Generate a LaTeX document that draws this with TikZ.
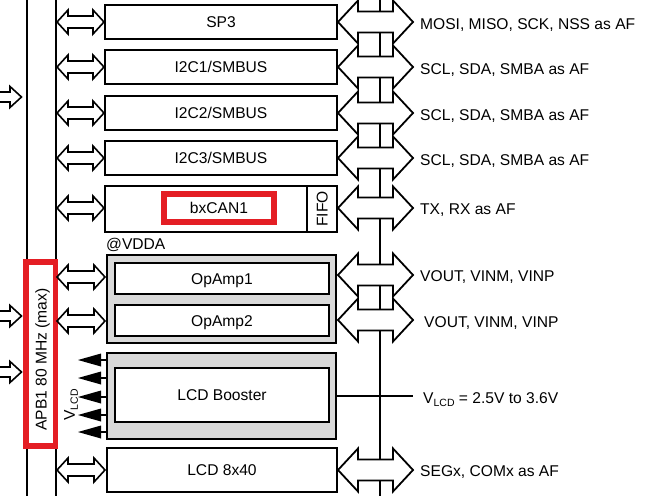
\documentclass[tikz,border=0pt]{standalone}
\usepackage{fontspec}
\setmainfont{Liberation Sans}
\definecolor{annred}{RGB}{228,30,36}
\definecolor{grpgray}{RGB}{217,217,217}
\newcommand\leftdbl[3]{% x1 x2 y
  \draw[line width=1.6pt, fill=white, line join=miter]
    (#1,#3) -- ({#1+11},{#3-12}) -- ({#1+11},{#3-6}) -- ({#2-11},{#3-6}) -- ({#2-11},{#3-12})
    -- (#2,#3) -- ({#2-11},{#3+12}) -- ({#2-11},{#3+6}) -- ({#1+11},{#3+6}) -- ({#1+11},{#3+12}) -- cycle;}
\newcommand\rightdbl[1]{% y
  \draw[line width=1.8pt, fill=white, line join=miter]
    (338,#1) -- (358,{#1-21.5}) -- (358,{#1-10.5}) -- (393,{#1-10.5}) -- (393,{#1-21.5})
    -- (413,#1) -- (393,{#1+21.5}) -- (393,{#1+10.5}) -- (358,{#1+10.5}) -- (358,{#1+21.5}) -- cycle;}
\newcommand\inarrow[1]{% y
  \draw[line width=1.6pt, fill=white, line join=miter]
    (-3,{#1-5}) -- (10,{#1-5}) -- (10,{#1-10.5}) -- (21.5,#1) -- (10,{#1+10.5}) -- (10,{#1+5}) -- (-3,{#1+5});}
\newcommand\vlcdtri[1]{% y
  \fill (78,#1) -- (101,{#1-6.5}) -- (101,{#1+6.5}) -- cycle;
  \draw[line width=1.4pt] (100,#1) -- (107,#1);}
\begin{document}
\begin{tikzpicture}[x=1pt,y=-1pt, font=\fontsize{15.6}{18}\selectfont,
  box/.style={draw=black, line width=2pt, fill=white, inner sep=0pt, text height=11.2pt, text depth=0pt},
  grp/.style={draw=black, line width=2.2pt, fill=grpgray, inner sep=0pt},
  lbl/.style={anchor=west, inner sep=0pt, text height=11.2pt, text depth=0pt},
  redbox/.style={draw=annred, line width=5.5pt, inner sep=0pt}]
\useasboundingbox (0,0) rectangle (660,495);
% bus lines
\coordinate (l1top) at (27,-2);  \coordinate (l1bot) at (27,497);
\coordinate (l2top) at (56,-2);  \coordinate (l2bot) at (56,497);
\coordinate (bustop) at (380,-2); \coordinate (busbot) at (380,497);
\draw[line width=1.8pt] (l1top) -- (l1bot);
\draw[line width=1.8pt] (l2top) -- (l2bot);
\draw[line width=2.8pt] (bustop) -- (busbot);
% APB1 bridge annotation
\node[redbox, fill=white, minimum width=29.5pt, minimum height=184pt] (apb) at (40.75,354) {};
\node[rotate=90, text height=11.2pt, text depth=0pt] (apbtxt) at (41,359.5) {APB1 80 MHz (max)};
% input arrows
\inarrow{97}
\inarrow{316}
\inarrow{372}
% left double arrows
\leftdbl{57}{104}{22}
\leftdbl{57}{104}{67}
\leftdbl{57}{104}{113}
\leftdbl{57}{104}{158}
\leftdbl{57}{104}{208}
\leftdbl{57}{105}{277}
\leftdbl{57}{105}{321}
\leftdbl{57}{105}{470}
% right double arrows
\rightdbl{22}
\rightdbl{67}
\rightdbl{113}
\rightdbl{158}
\rightdbl{208}
\rightdbl{275}
\rightdbl{320}
\rightdbl{470}
% boxes
\node[box, minimum width=232pt, minimum height=34pt] (sp3) at (221,22) {SP3};
\node[box, minimum width=232pt, minimum height=34pt] (i2c1) at (221,67) {I2C1/SMBUS};
\node[box, minimum width=232pt, minimum height=34pt] (i2c2) at (221,113) {I2C2/SMBUS};
\node[box, minimum width=232pt, minimum height=34pt] (i2c3) at (221,158) {I2C3/SMBUS};
\node[box, minimum width=232pt, minimum height=46pt] (can) at (221,209) {};
\coordinate (fifotop) at (307,186); \coordinate (fifobot) at (307,232);
\draw[line width=1.6pt] (fifotop) -- (fifobot);
\node[rotate=90, inner sep=0pt, text height=11.2pt, text depth=0pt] (fifo) at (322,209) {FIFO};
\node[redbox, minimum width=110pt, minimum height=28pt, text height=11.2pt, text depth=0pt] (canred) at (219,208) {bxCAN1};
\node[anchor=west, inner sep=0pt, text height=11.2pt, text depth=0pt] (vdda) at (106,243.5) {@VDDA};
\node[grp, minimum width=229pt, minimum height=88pt] (opgrp) at (221.5,299) {};
\node[box, minimum width=214pt, minimum height=31pt] (op1) at (222,278.5) {OpAmp1};
\node[box, minimum width=214pt, minimum height=31pt] (op2) at (222,320.5) {OpAmp2};
\node[grp, minimum width=229pt, minimum height=86pt] (bstgrp) at (221.5,396) {};
\node[box, minimum width=214pt, minimum height=54pt] (bst) at (222,395) {LCD Booster};
\node[box, minimum width=230pt, minimum height=44pt] (lcd) at (222,469.5) {LCD 8x40};
% VLCD triangles
\vlcdtri{360}
\vlcdtri{378}
\vlcdtri{397}
\vlcdtri{415}
\vlcdtri{432}
\node[rotate=90, inner sep=0pt] (vlcd) at (71,405) {V\raisebox{-0.35ex}{\fontsize{10.5}{12}\selectfont LCD}};
% VLCD output line
\coordinate (vlcdend) at (413,396);
\draw[line width=1.4pt] (bstgrp.east) -- (vlcdend);
% right labels
\node[lbl] (t1) at (420,24) {MOSI, MISO, SCK, NSS as AF};
\node[lbl] (t2) at (420,69) {SCL, SDA, SMBA as AF};
\node[lbl] (t3) at (420,115) {SCL, SDA, SMBA as AF};
\node[lbl] (t4) at (420,160) {SCL, SDA, SMBA as AF};
\node[lbl] (t5) at (420,209) {TX, RX as AF};
\node[lbl] (t6) at (420,276) {VOUT, VINM, VINP};
\node[lbl] (t7) at (424,322) {VOUT, VINM, VINP};
\node[lbl] (t8) at (423,398) {V\raisebox{-0.35ex}{\fontsize{10.5}{12}\selectfont LCD} = 2.5V to 3.6V};
\node[lbl] (t9) at (420,471) {SEGx, COMx as AF};
\end{tikzpicture}
\end{document}
